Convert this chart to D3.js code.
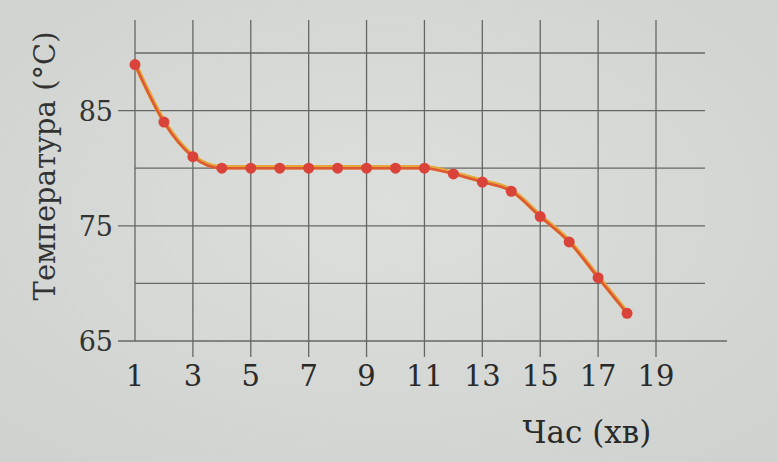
<!DOCTYPE html>
<html><head><meta charset="utf-8">
<script src="https://cdn.jsdelivr.net/npm/d3@7"></script>
<style>html,body{margin:0;padding:0;background:#d6d9d5;}svg{display:block;}</style>
</head><body>
<script>
const minutes = [1,2,3,4,5,6,7,8,9,10,11,12,13,14,15,16,17,18];
const temps = [89,84,81,80,80,80,80,80,80,80,80,79.5,78.8,78,75.8,73.6,70.5,67.4];
const xTicks = [1,3,5,7,9,11,13,15,17,19];
const yGrid = [65,70,75,80,85,90];
const yTicks = [65,75,85];
const xTitle = "Час (хв)";
const yTitle = "Температура (°C)";

const W = 778, H = 462;
const svg = d3.select("body").append("svg").attr("width", W).attr("height", H);
const bg = svg.append("defs").append("radialGradient").attr("id","bg").attr("cx","50%").attr("cy","45%").attr("r","70%");
bg.append("stop").attr("offset","0%").attr("stop-color","#dcdfdb");
bg.append("stop").attr("offset","100%").attr("stop-color","#cfd2ce");
svg.append("rect").attr("width",W).attr("height",H).attr("fill","url(#bg)");

const x = d3.scaleLinear().domain([1,19]).range([135,656]);
const y = d3.scaleLinear().domain([65,90]).range([341,53]);
const font = "'DejaVu Serif', serif";
const gridCol = "#656764";

// horizontal grid
svg.append("g").selectAll("line").data(yGrid).join("line")
  .attr("x1", d => yTicks.includes(d) ? 118 : x(1))
  .attr("x2", d => d===65 ? 727 : 705)
  .attr("y1", d => y(d)).attr("y2", d => y(d))
  .attr("stroke", gridCol).attr("stroke-width", 1.3);

// vertical grid
svg.append("g").selectAll("line").data(xTicks).join("line")
  .attr("x1", d => x(d)).attr("x2", d => x(d))
  .attr("y1", 20).attr("y2", d => d===1 ? y(65) : y(65)+16)
  .attr("stroke", gridCol).attr("stroke-width", 1.3);

// y tick labels
svg.append("g").selectAll("text").data(yTicks).join("text")
  .attr("x", 113).attr("y", d => y(d)+10)
  .attr("text-anchor","end").attr("font-family",font).attr("font-size",27)
  .attr("fill","#333").text(d => d);

// x tick labels
svg.append("g").selectAll("text").data(xTicks).join("text")
  .attr("x", d => x(d)).attr("y", 386)
  .attr("text-anchor","middle").attr("font-family",font).attr("font-size",29)
  .attr("fill","#2a2a2a").text(d => d);

// axis titles
svg.append("text").attr("x",587).attr("y",443).attr("text-anchor","middle")
  .attr("font-family",font).attr("font-size",31).attr("fill","#2a2a2a").text(xTitle);
svg.append("text").attr("transform","translate(55,166) rotate(-90)").attr("text-anchor","middle")
  .attr("font-family",font).attr("font-size",29).attr("fill","#333").text(yTitle);

// line
const line = d3.line().x(d => x(d[0])).y(d => y(d[1])).curve(d3.curveMonotoneX);
const pts = minutes.map((m,i) => [m, temps[i]]);
svg.append("path").datum(pts).attr("d", line).attr("fill","none")
  .attr("stroke","#e7a83a").attr("stroke-width",4.5).attr("transform","translate(0,-1)");
svg.append("path").datum(pts).attr("d", line).attr("fill","none")
  .attr("stroke","#dc5a35").attr("stroke-width",2.6);
svg.append("g").selectAll("circle").data(pts).join("circle")
  .attr("cx", d => x(d[0])).attr("cy", d => y(d[1])).attr("r", 5.5)
  .attr("fill","#d9433a");
</script>
</body></html>
